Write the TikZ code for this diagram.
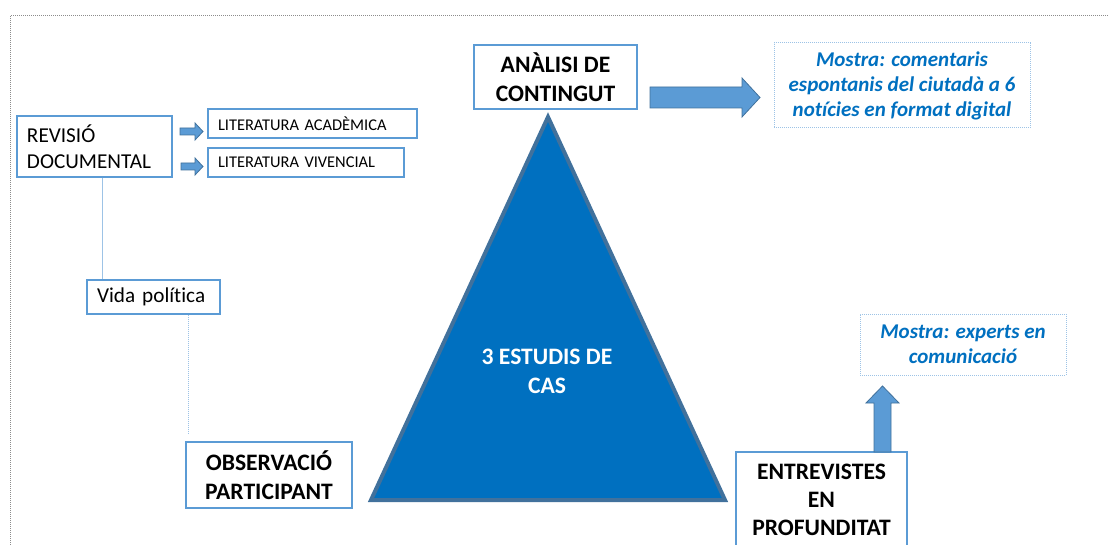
\documentclass[tikz,border=0pt]{standalone}
\usepackage{fontspec}
\setmainfont{Carlito}[Ligatures=NoCommon]
\usetikzlibrary{calc}
\definecolor{boxblue}{HTML}{5B9BD5}
\definecolor{darkblue}{HTML}{0070C0}
\definecolor{edgeblue}{HTML}{41719C}
\definecolor{lightblue}{HTML}{9DC3E6}
\newcommand\myreg{\fontsize{21.2}{26}\selectfont}
\newcommand\mysmall{\fontsize{16.4}{20}\selectfont}
\newcommand\mybold{\fontsize{23.6}{29}\selectfont\bfseries}
\newcommand\mybolde{\fontsize{23.6}{28}\selectfont\bfseries}
\newcommand\myital{\fontsize{21}{25}\selectfont\bfseries\itshape}
\begin{document}
\begin{tikzpicture}[x=1pt,y=-1pt,
  box/.style={draw=boxblue, line width=1.2pt, fill=white, inner sep=0pt},
  lefttext/.style={align=left, inner xsep=10pt},
  centertext/.style={align=center},
  mostra/.style={draw=lightblue, densely dotted, line width=1pt, fill=white, text=darkblue, font=\myital, align=center, inner sep=0pt},
  barrow/.style={fill=boxblue, draw=edgeblue, line width=0.8pt, line join=miter},
  conn/.style={draw=lightblue, line width=1pt}]
\useasboundingbox (0,0) rectangle (1108,545);
\draw[densely dotted, gray!90, line width=1pt] (10,16) rectangle (1120,560);

% triangle
\coordinate (tA) at (548,117);
\coordinate (tB) at (371,500);
\coordinate (tC) at (725,500);
\draw[fill=darkblue, draw=edgeblue, line width=4pt, line join=miter] (tA) -- (tB) -- (tC) -- cycle;
\node[text=white, font=\mybold, align=center] (cas) at (547,371.5) {3 ESTUDIS DE\\CAS};

% boxes
\node[box, lefttext, text width=135pt, minimum height=61pt, font=\myreg] (rev) at (94.5,146.5) {REVISIÓ\\DOCUMENTAL};
\node[box, lefttext, text width=189pt, minimum height=29pt, font=\mysmall] (acad) at (312.5,123.5) {LITERATURA ACADÈMICA};
\node[box, lefttext, text width=176pt, minimum height=29pt, font=\mysmall] (viv) at (306,162.5) {LITERATURA VIVENCIAL};
\node[box, lefttext, text width=113pt, minimum height=34pt, font=\myreg] (vida) at (153.5,297) {Vida política};
\node[box, centertext, minimum width=166pt, minimum height=66pt, font=\mybold] (obs) at (269,475) {OBSERVACIÓ\\PARTICIPANT};
\node[box, centertext, minimum width=163pt, minimum height=64pt, font=\mybold] (ana) at (555.5,77) {ANÀLISI DE\\CONTINGUT};
\node[mostra, minimum width=256pt, minimum height=85pt] (m1) at (902,85.5) {Mostra: comentaris\\espontanis del ciutadà a 6\\notícies en format digital};
\node[mostra, minimum width=206pt, minimum height=61pt] (m2) at (963,344.5) {Mostra: experts en\\comunicació};
\node[box, centertext, minimum width=171pt, minimum height=96pt, font=\mybolde] (ent) at (821.5,500) {ENTREVISTES\\EN\\PROFUNDITAT};

% block arrows
\draw[barrow] (180,128) -- (195,128) -- (195,123) -- (203,131.5) -- (195,140) -- (195,135) -- (180,135) -- cycle;
\draw[barrow] (181,163) -- (195,163) -- (195,158) -- (203,166.5) -- (195,175) -- (195,170) -- (181,170) -- cycle;
\draw[barrow] (650,87) -- (742,87) -- (742,78) -- (760,97.5) -- (742,117) -- (742,108) -- (650,108) -- cycle;
\draw[barrow] (874,452) -- (874,403) -- (866,403) -- (882.5,386) -- (899,403) -- (891,403) -- (891,452) -- cycle;

% connectors
\coordinate (x1) at (102,0);
\coordinate (x2) at (188,0);
\draw[conn] (rev.south -| x1) -- (vida.north -| x1);
\draw[conn, densely dotted, shorten >=7pt] (vida.south -| x2) -- (obs.north -| x2);
\end{tikzpicture}
\end{document}
